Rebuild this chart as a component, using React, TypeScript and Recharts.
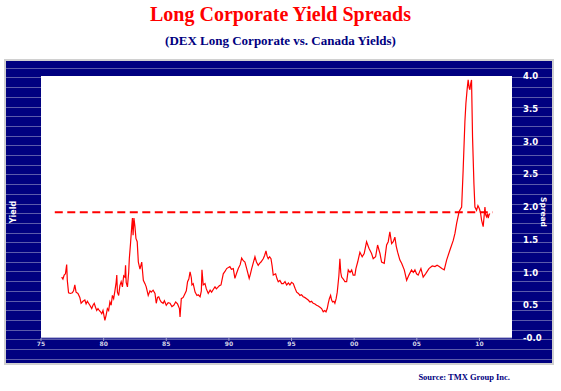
import { LineChart, Line, XAxis, YAxis, CartesianGrid, ReferenceLine } from "recharts";

// weekly-ish spread readings (decimal year, %)
const years = [
  1976.65, 1976.75, 1976.85, 1976.95, 1977.05, 1977.1, 1977.2, 1977.35, 1977.5, 1977.6,
  1977.7, 1977.8, 1977.95, 1978.1, 1978.2, 1978.35, 1978.5, 1978.6, 1978.7, 1978.8,
  1978.9, 1979.05, 1979.15, 1979.25, 1979.35, 1979.45, 1979.55, 1979.65, 1979.75, 1979.85,
  1979.95, 1980.05, 1980.1, 1980.2, 1980.3, 1980.4, 1980.5, 1980.6, 1980.7, 1980.8,
  1980.9, 1981.0, 1981.05, 1981.1, 1981.2, 1981.3, 1981.4, 1981.5, 1981.6, 1981.7,
  1981.75, 1981.8, 1981.9, 1982.0, 1982.05, 1982.15, 1982.25, 1982.3, 1982.35, 1982.42,
  1982.5, 1982.58, 1982.68, 1982.77, 1982.9, 1983.04, 1983.17, 1983.3, 1983.4, 1983.56,
  1983.7, 1983.8, 1983.95, 1984.1, 1984.2, 1984.3, 1984.4, 1984.5, 1984.6, 1984.75,
  1984.85, 1985.0, 1985.15, 1985.3, 1985.45, 1985.6, 1985.75, 1985.9, 1986.05, 1986.1,
  1986.2, 1986.35, 1986.5, 1986.6, 1986.7, 1986.8, 1986.9, 1987.0, 1987.05, 1987.15,
  1987.3, 1987.45, 1987.55, 1987.7, 1987.8, 1987.85, 1987.95, 1988.09, 1988.2, 1988.35,
  1988.5, 1988.62, 1988.75, 1988.89, 1989.0, 1989.15, 1989.25, 1989.37, 1989.55, 1989.7,
  1989.82, 1990.08, 1990.2, 1990.35, 1990.48, 1990.6, 1990.75, 1990.9, 1991.02, 1991.15,
  1991.28, 1991.42, 1991.62, 1991.72, 1991.82, 1991.95, 1992.08, 1992.2, 1992.34, 1992.45,
  1992.56, 1992.74, 1992.85, 1992.96, 1993.05, 1993.14, 1993.25, 1993.36, 1993.45, 1993.54,
  1993.73, 1993.85, 1993.94, 1994.07, 1994.21, 1994.34, 1994.48, 1994.61, 1994.75, 1994.87,
  1995.0, 1995.14, 1995.28, 1995.41, 1995.55, 1995.67, 1995.8, 1995.93, 1996.05, 1996.2,
  1996.33, 1996.47, 1996.6, 1996.73, 1996.87, 1997.0, 1997.13, 1997.27, 1997.4, 1997.53,
  1997.65, 1997.75, 1997.85, 1997.93, 1998.02, 1998.12, 1998.2, 1998.28, 1998.38, 1998.46,
  1998.56, 1998.65, 1998.78, 1998.86, 1998.93, 1999.0, 1999.13, 1999.26, 1999.4, 1999.53,
  1999.67, 1999.8, 1999.92, 2000.06, 2000.14, 2000.28, 2000.46, 2000.64, 2000.8, 2000.99,
  2001.18, 2001.39, 2001.52, 2001.71, 2001.87, 2002.06, 2002.19, 2002.4, 2002.59, 2002.72,
  2002.85, 2002.99, 2003.12, 2003.25, 2003.36, 2003.47, 2003.65, 2003.79, 2004.0, 2004.19,
  2004.37, 2004.58, 2004.72, 2004.85, 2004.98, 2005.11, 2005.33, 2005.51, 2005.7, 2005.97,
  2006.23, 2006.45, 2006.62, 2006.79, 2007.0, 2007.19, 2007.38, 2007.64, 2007.91, 2008.05,
  2008.18, 2008.38, 2008.58, 2008.7, 2008.84, 2008.92, 2009.02, 2009.1, 2009.18, 2009.24,
  2009.3, 2009.37, 2009.45, 2009.56, 2009.64, 2009.77, 2009.88, 2009.98, 2010.08, 2010.17,
  2010.3, 2010.44, 2010.5, 2010.57, 2010.65, 2010.7, 2010.77, 2010.83,
];

const spread = [
  0.93, 0.9, 0.96, 0.98, 1.12, 0.88, 0.69, 0.68, 0.69, 0.72,
  0.81, 0.7, 0.68, 0.62, 0.53, 0.56, 0.58, 0.52, 0.56, 0.53,
  0.5, 0.45, 0.5, 0.53, 0.47, 0.42, 0.45, 0.42, 0.4, 0.37,
  0.42, 0.32, 0.27, 0.35, 0.45, 0.42, 0.55, 0.5, 0.65, 0.6,
  0.72, 0.85, 0.96, 0.7, 0.65, 0.8, 0.86, 0.78, 0.95, 0.93,
  1.11, 0.85, 0.78, 1.0, 1.21, 1.45, 1.72, 1.83, 1.57, 1.83,
  1.7, 1.52, 1.47, 1.16, 1.05, 1.16, 0.88, 0.83, 0.78, 0.65,
  0.72, 0.7, 0.73, 0.68, 0.53, 0.62, 0.63, 0.58, 0.55, 0.53,
  0.57, 0.5, 0.54, 0.53, 0.48, 0.5, 0.55, 0.52, 0.45, 0.32,
  0.6, 0.62, 0.68, 0.72, 0.86, 0.9, 1.01, 0.92, 0.81, 0.83,
  0.7, 0.65, 0.66, 0.63, 0.72, 1.04, 0.81, 0.83, 0.75, 0.68,
  0.73, 0.7, 0.74, 0.78, 0.75, 0.78, 0.8, 0.81, 0.98, 1.02,
  1.06, 1.09, 1.05, 1.06, 0.91, 0.98, 1.06, 1.12, 1.22, 1.18,
  1.16, 1.06, 0.91, 0.98, 1.06, 1.15, 1.24, 1.16, 1.11, 1.14,
  1.16, 1.21, 1.26, 1.33, 1.25, 1.21, 1.24, 1.21, 1.1, 0.96,
  0.98, 0.9, 0.86, 0.88, 0.83, 0.83, 0.86, 0.81, 0.84, 0.81,
  0.85, 0.83, 0.76, 0.7, 0.68, 0.65, 0.66, 0.63, 0.62, 0.6,
  0.58, 0.55, 0.56, 0.53, 0.52, 0.5, 0.49, 0.47, 0.45, 0.4,
  0.42, 0.4, 0.45, 0.53, 0.6, 0.65, 0.58, 0.55, 0.56, 0.53,
  0.6, 0.7, 0.95, 1.21, 1.0, 0.93, 0.9, 0.86, 0.86, 1.04,
  1.0, 1.04, 0.96, 0.96, 1.06, 1.16, 1.31, 1.24, 1.29, 1.47,
  1.37, 1.29, 1.21, 1.24, 1.42, 1.29, 1.16, 1.14, 1.42, 1.47,
  1.62, 1.44, 1.47, 1.54, 1.4, 1.31, 1.19, 1.14, 1.04, 0.88,
  0.96, 1.04, 1.0, 1.04, 0.98, 0.96, 1.06, 0.93, 0.98, 1.06,
  1.1, 1.09, 1.11, 1.09, 1.06, 1.04, 1.19, 1.34, 1.49, 1.6,
  1.75, 1.93, 2.0, 2.56, 3.3, 3.58, 3.8, 3.94, 3.82, 3.79,
  3.88, 3.94, 3.07, 2.36, 2.0, 1.95, 2.02, 1.98, 1.92, 1.8,
  1.7, 2.0, 1.88, 1.85, 1.9, 1.83, 1.88, 1.9,
];

const xTicks = [1975, 1980, 1985, 1990, 1995, 2000, 2005, 2010];
const yTicks = [0, 0.5, 1, 1.5, 2, 2.5, 3, 3.5, 4];

const avgSpread = 1.92;
const avgFrom = 1976.1;
const avgTo = 2011.05;

const data = years.map((year, i) => ({ year, spread: spread[i] }));

const NAVY = "#000080";

export default function App() {
  return (
    <div style={{ position: "absolute", left: 0, top: 0, width: 561, height: 391, background: "#fff" }}>
      <div
        style={{
          position: "absolute",
          top: 3,
          width: 561,
          textAlign: "center",
          fontFamily: "'Liberation Serif', serif",
          fontWeight: "bold",
          fontSize: 20,
          color: "#ff0000",
        }}
      >
        Long Corporate Yield Spreads
      </div>
      <div
        style={{
          position: "absolute",
          top: 33,
          width: 561,
          textAlign: "center",
          fontFamily: "'Liberation Serif', serif",
          fontWeight: "bold",
          fontSize: 13,
          color: NAVY,
        }}
      >
        (DEX Long Corporate vs. Canada Yields)
      </div>

      {/* navy frame with faint stripes */}
      <div
        style={{
          position: "absolute",
          left: 4,
          top: 59,
          width: 546,
          height: 302,
          border: "2px solid #d0d0d0",
          backgroundColor: NAVY,
          backgroundImage:
            "repeating-linear-gradient(to bottom, transparent 0px, transparent 8.7px, #5a5aaa 8.7px, #5a5aaa 9.7px)",
          backgroundPosition: "0 -2px",
        }}
      />

      <div style={{ position: "absolute", left: 0, top: 0 }}>
        <LineChart width={561} height={391} data={data} margin={{ top: 76, right: 9, left: 41, bottom: 33 }}>
          <CartesianGrid horizontal={false} vertical={false} fill="#ffffff" />
          <XAxis
            dataKey="year"
            type="number"
            domain={[1975, 2012.6]}
            ticks={xTicks}
            allowDataOverflow
            height={20}
            axisLine={{ stroke: "#6a6ab4" }}
            tickLine={{ stroke: "#a0a0cc" }}
            tickSize={3}
            tickMargin={1}
            tickFormatter={(v) => String(v % 100).padStart(2, "0")}
            tick={{ fill: "#d0d0e4", fontSize: 6, fontWeight: "bold", fontFamily: "'DejaVu Sans', sans-serif" }}
          />
          <YAxis
            orientation="right"
            domain={[0, 4]}
            ticks={yTicks}
            width={40}
            axisLine={false}
            tickLine={false}
            tickMargin={5}
            tickFormatter={(v) => (v === 0 ? "-0.0" : v.toFixed(1))}
            tick={{ fill: "#ffffff", fontSize: 8.5, fontWeight: "bold", fontFamily: "'DejaVu Sans', sans-serif" }}
          />
          <ReferenceLine
            segment={[
              { x: avgFrom, y: avgSpread },
              { x: avgTo, y: avgSpread },
            ]}
            stroke="#ff0000"
            strokeWidth={2}
            strokeDasharray="8 4.5"
          />
          <Line
            type="linear"
            dataKey="spread"
            stroke="#ff0000"
            strokeWidth={1.2}
            dot={false}
            isAnimationActive={false}
          />
        </LineChart>
      </div>

      <div
        style={{
          position: "absolute",
          left: 13,
          top: 212,
          transform: "translate(-50%, -50%) rotate(-90deg)",
          color: "#fff",
          fontFamily: "'DejaVu Sans', sans-serif",
          fontWeight: "bold",
          fontSize: 8,
          whiteSpace: "nowrap",
        }}
      >
        Yield
      </div>
      <div
        style={{
          position: "absolute",
          left: 543,
          top: 212,
          transform: "translate(-50%, -50%) rotate(90deg)",
          color: "#fff",
          fontFamily: "'DejaVu Sans', sans-serif",
          fontWeight: "bold",
          fontSize: 7.5,
          whiteSpace: "nowrap",
        }}
      >
        Spread
      </div>

      <div
        style={{
          position: "absolute",
          right: 51,
          top: 372,
          fontFamily: "'Liberation Serif', serif",
          fontWeight: "bold",
          fontSize: 8.5,
          color: NAVY,
        }}
      >
        Source: TMX Group Inc.
      </div>
    </div>
  );
}
